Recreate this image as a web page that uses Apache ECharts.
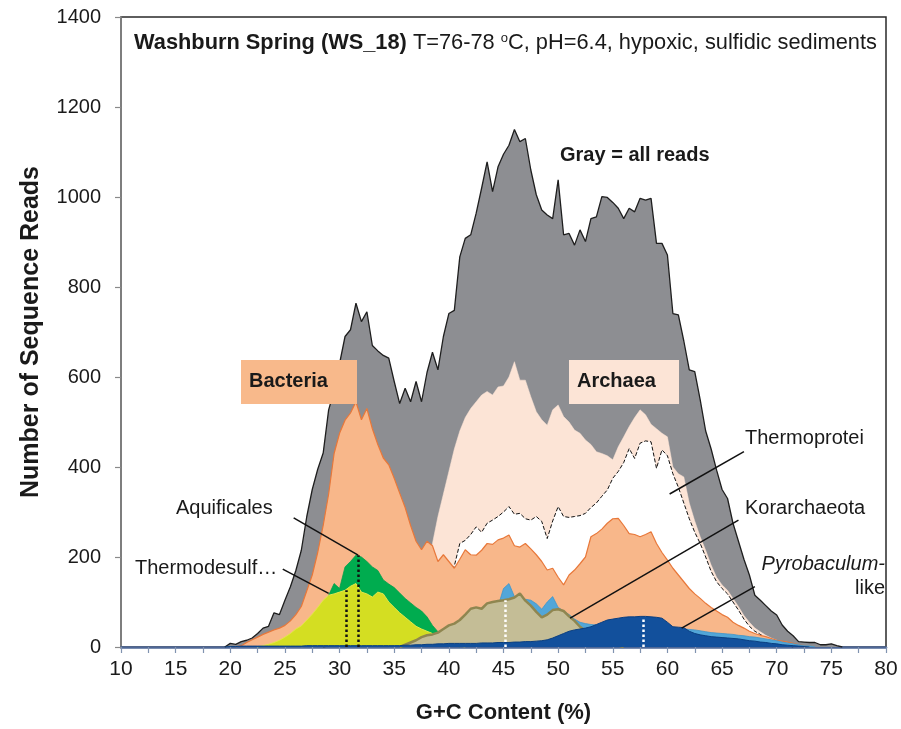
<!DOCTYPE html>
<html>
<head>
<meta charset="utf-8">
<script src="https://cdn.jsdelivr.net/npm/echarts@6/dist/echarts.min.js"></script>
<style>
  html, body { margin: 0; padding: 0; background: #fff; }
  #main { width: 901px; height: 729px; }
</style>
</head>
<body>
<div id="main"></div>
<script>
// G+C content (%), 0.5 steps from 19 to 77
var gc = [
    19, 19.5, 20, 20.5, 21, 21.5, 22, 22.5, 23, 23.5,
    24, 24.5, 25, 25.5, 26, 26.5, 27, 27.5, 28, 28.5,
    29, 29.5, 30, 30.5, 31, 31.5, 32, 32.5, 33, 33.5,
    34, 34.5, 35, 35.5, 36, 36.5, 37, 37.5, 38, 38.5,
    39, 39.5, 40, 40.5, 41, 41.5, 42, 42.5, 43, 43.5,
    44, 44.5, 45, 45.5, 46, 46.5, 47, 47.5, 48, 48.5,
    49, 49.5, 50, 50.5, 51, 51.5, 52, 52.5, 53, 53.5,
    54, 54.5, 55, 55.5, 56, 56.5, 57, 57.5, 58, 58.5,
    59, 59.5, 60, 60.5, 61, 61.5, 62, 62.5, 63, 63.5,
    64, 64.5, 65, 65.5, 66, 66.5, 67, 67.5, 68, 68.5,
    69, 69.5, 70, 70.5, 71, 71.5, 72, 72.5, 73, 73.5,
    74, 74.5, 75, 75.5, 76, 76.5, 77
];

var allReads = [
    0, 0, 8, 6, 12, 15, 20, 30, 42, 46,
    76, 72, 104, 134, 170, 215, 290, 350, 395, 431,
    527, 570, 630, 690, 705, 764, 723, 745, 670, 658,
    648, 642, 590, 541, 575, 545, 590, 545, 610, 655,
    616, 690, 741, 748, 867, 908, 916, 964, 1020, 1078,
    1012, 1067, 1095, 1115, 1150, 1123, 1130, 1060, 1005, 971,
    960, 952, 1038, 916, 919, 893, 927, 901, 952, 956,
    1001, 999, 988, 975, 952, 975, 967, 997, 993, 997,
    897, 897, 871, 741, 738, 680, 616, 612, 549, 480,
    440, 393, 350, 330, 275, 235, 195, 160, 115, 104,
    92, 80, 71, 49, 35, 25, 12, 11, 10, 10,
    5, 5, 7, 3, 0, 0, 0
];

var archaea = [
    0, 0, 0, 0, 0, 0, 0, 0, 0, 0,
    0, 0, 0, 0, 0, 0, 2, 3, 4, 5,
    6, 8, 10, 12, 14, 16, 18, 20, 24, 28,
    32, 36, 40, 48, 56, 66, 80, 100, 140, 230,
    290, 340, 390, 440, 480, 510, 530, 545, 560, 568,
    560, 578, 580, 600, 634, 593, 593, 556, 523, 505,
    493, 527, 538, 512, 500, 482, 475, 460, 450, 434,
    430, 425, 416, 445, 467, 490, 510, 527, 516, 495,
    485, 475, 467, 400, 385, 378, 320, 280, 245, 215,
    182, 155, 138, 126, 108, 90, 70, 55, 42, 34,
    26, 20, 15, 10, 7, 4, 0, 0, 0, 0,
    0, 0, 0, 0, 0, 0, 0
];

var thermoprotei = [
    0, 0, 0, 0, 0, 0, 0, 0, 0, 0,
    0, 0, 0, 0, 0, 0, 0, 0, 0, 0,
    2, 3, 4, 5, 6, 7, 8, 9, 10, 12,
    14, 17, 20, 30, 40, 50, 60, 75, 90, 110,
    130, 150, 165, 180, 230, 237, 250, 267, 255, 275,
    282, 290, 300, 312, 295, 297, 285, 282, 290, 279,
    241, 280, 312, 290, 288, 290, 292, 297, 310, 320,
    335, 349, 375, 390, 410, 441, 419, 453, 458, 456,
    397, 438, 425, 385, 355, 320, 285, 255, 230, 200,
    168, 145, 130, 118, 100, 82, 62, 46, 35, 28,
    20, 14, 9, 5, 2, 0, 0, 0, 0, 0,
    0, 0, 0, 0, 0, 0, 0
];

var bacteria = [
    0, 0, 0, 0, 3, 10, 16, 22, 28, 33,
    38, 42, 48, 58, 72, 90, 125, 160, 210, 270,
    340, 430, 475, 504, 520, 545, 505, 530, 485, 450,
    420, 405, 375, 342, 310, 270, 235, 216, 235, 225,
    190, 205, 190, 175, 195, 216, 205, 204, 215, 230,
    228, 238, 242, 249, 225, 222, 230, 218, 205, 190,
    171, 175, 155, 138, 160, 171, 185, 200, 245, 252,
    262, 275, 285, 286, 270, 252, 250, 245, 250, 256,
    230, 210, 193, 175, 160, 145, 130, 118, 108, 97,
    88, 80, 72, 66, 55, 48, 42, 35, 30, 26,
    23, 19, 15, 13, 11, 8, 5, 3, 0, 0,
    0, 0, 0, 0, 0, 0, 0
];

var aquificales = [
    0, 0, 0, 0, 0, 0, 0, 0, 1, 2,
    3, 5, 8, 12, 20, 30, 45, 60, 75, 90,
    115, 141, 130, 178, 190, 204, 200, 190, 178, 170,
    149, 140, 132, 120, 108, 98, 88, 80, 67, 48,
    34, 20, 10, 4, 0, 0, 0, 0, 0, 0,
    0, 0, 0, 0, 0, 0, 0, 0, 0, 0,
    0, 0, 0, 0, 0, 0, 0, 0, 0, 0,
    0, 0, 0, 0, 0, 0, 0, 0, 0, 0,
    0, 0, 0, 0, 0, 0, 0, 0, 0, 0,
    0, 0, 0, 0, 0, 0, 0, 0, 0, 0,
    0, 0, 0, 0, 0, 0, 0, 0, 0, 0,
    0, 0, 0, 0, 0, 0, 0
];

var thermodesulf = [
    0, 0, 0, 0, 0, 0, 0, 0, 3, 6,
    10, 15, 22, 30, 40, 47, 60, 73, 88, 104,
    115, 118, 122, 126, 135, 141, 122, 118, 111, 122,
    118, 100, 88, 76, 66, 56, 46, 40, 35, 30,
    22, 16, 10, 5, 2, 0, 0, 0, 0, 0,
    0, 0, 0, 0, 0, 0, 0, 0, 0, 0,
    0, 0, 0, 0, 0, 0, 0, 0, 0, 0,
    0, 0, 0, 0, 0, 0, 0, 0, 0, 0,
    0, 0, 0, 0, 0, 0, 0, 0, 0, 0,
    0, 0, 0, 0, 0, 0, 0, 0, 0, 0,
    0, 0, 0, 0, 0, 0, 0, 0, 0, 0,
    0, 0, 0, 0, 0, 0, 0
];

var lightBlue = [
    0, 0, 0, 0, 0, 0, 0, 0, 0, 0,
    0, 0, 0, 0, 0, 0, 0, 0, 0, 0,
    0, 0, 0, 0, 0, 0, 0, 0, 0, 0,
    0, 0, 2, 2, 3, 4, 5, 6, 8, 9,
    10, 12, 15, 18, 20, 25, 30, 40, 50, 60,
    70, 90, 130, 141, 112, 110, 106, 104, 96, 84,
    100, 112, 88, 80, 72, 62, 55, 52, 50, 49,
    48, 47, 46, 45, 44, 44, 43, 43, 42, 42,
    42, 41, 41, 41, 40, 40, 39, 38, 36, 34,
    32, 31, 30, 29, 28, 26, 25, 23, 22, 20,
    18, 16, 14, 11, 9, 7, 5, 3, 2, 0,
    0, 0, 0, 0, 0, 0, 0
];

var korarchaeota = [
    0, 0, 0, 0, 0, 0, 0, 0, 0, 0,
    0, 0, 0, 0, 0, 0, 0, 0, 0, 0,
    0, 0, 0, 0, 0, 0, 0, 0, 0, 0,
    0, 0, 0, 0, 5, 10, 15, 22, 26, 28,
    32, 40, 48, 52, 60, 72, 85, 88, 85, 97,
    100, 102, 104, 106, 110, 119, 103, 92, 78, 66,
    72, 82, 84, 80, 68, 58, 45, 36, 28, 20,
    14, 9, 5, 3, 0, 0, 0, 0, 0, 0,
    0, 0, 0, 0, 0, 0, 0, 0, 0, 0,
    0, 0, 0, 0, 0, 0, 0, 0, 0, 0,
    0, 0, 0, 0, 0, 0, 0, 0, 0, 0,
    0, 0, 0, 0, 0, 0, 0
];

var pyrobaculum = [
    0, 0, 1, 1, 2, 2, 2, 2, 2, 2,
    2, 2, 2, 2, 2, 2, 3, 3, 3, 3,
    3, 3, 3, 3, 3, 3, 3, 3, 3, 3,
    3, 3, 3, 3, 4, 4, 5, 5, 6, 6,
    7, 7, 8, 8, 8, 8, 8, 8, 9, 9,
    9, 10, 10, 10, 11, 11, 12, 12, 13, 14,
    16, 20, 25, 30, 35, 38, 40, 42, 45, 50,
    55, 60, 62, 64, 66, 67, 67, 68, 68, 67,
    66, 64, 55, 45, 44, 43, 35, 30, 27, 25,
    23, 22, 21, 20, 19, 18, 16, 14, 13, 11,
    10, 8, 7, 5, 4, 3, 2, 1, 0, 0,
    0, 0, 0, 0, 0, 0, 0
];

// median G+C marks (dotted verticals)
var medianGc = [30.6, 31.7, 45.2, 57.8];
var medianTop = [126, 204, 104, 62];
var medianColor = ['#111', '#111', '#fff', '#fff'];

// leader lines from labels to curves, in data units [gc, reads]
var leaderFrom = [[25.8, 287], [24.8, 173], [67.0, 434], [66.5, 282], [68.0, 134]];
var leaderTo = [[31.7, 204], [29.0, 119], [60.2, 340], [51.1, 64], [61.3, 42]];

var yTicks = { min: 0, max: 1400, step: 200 };
var xTicks = { min: 10, max: 80, step: 2.5, labelEvery: 5 };

var FONT = '"Liberation Sans", Arial, sans-serif';

// keep only the stretch where a series is above zero (plus one zero on each side)
function pairs(vals) {
    var out = [];
    gc.forEach(function (x, i) {
        var prev = i > 0 ? vals[i - 1] : 0;
        var next = i < vals.length - 1 ? vals[i + 1] : 0;
        if (vals[i] > 0 || prev > 0 || next > 0)
            out.push([x, vals[i]]);
    });
    return out;
}

function areaSeries(name, vals, fill, line, width, type) {
    return {
        name: name,
        type: 'line',
        data: pairs(vals),
        symbol: 'none',
        silent: true,
        lineStyle: { color: line, width: width, type: type || 'solid' },
        areaStyle: { color: fill, opacity: 1 },
    };
}

var myChart = echarts.init(document.getElementById('main'));

var seriesList = [
    areaSeries('All reads', allReads, '#8d8e92', '#1e1e1e', 1.3),
    areaSeries('Archaea', archaea, '#fce4d6', '#fce4d6', 0.5),
    areaSeries('Thermoprotei', thermoprotei, '#ffffff', '#111', 1, [4, 2]),
    areaSeries('Bacteria', bacteria, '#f8b78a', '#e8783a', 1.2),
    areaSeries('Aquificales', aquificales, '#00ac4f', '#00a04a', 0.8),
    areaSeries('Thermodesulf', thermodesulf, '#d4de22', '#e4e64a', 1),
    areaSeries('Other archaea', lightBlue, '#52a6d8', '#3d95cc', 0.8),
    areaSeries('Korarchaeota', korarchaeota, '#c4bd96', '#8f8650', 2.5),
    areaSeries('Pyrobaculum-like', pyrobaculum, '#12509c', '#0b3f80', 1),
];

// each series on its own layer so a later area covers earlier outlines
seriesList.forEach(function (s, i) {
    s.z = 2 + i;
});

// dotted median lines and leader lines ride on the top series
var marks = [];
medianGc.forEach(function (x, i) {
    marks.push([
        { coord: [x, 0], lineStyle: { color: medianColor[i], width: 2.5, type: [2.5, 2.5] } },
        { coord: [x, medianTop[i]] },
    ]);
});
leaderFrom.forEach(function (p, i) {
    marks.push([
        { coord: p, lineStyle: { color: '#111', width: 1.5, type: 'solid' } },
        { coord: leaderTo[i] },
    ]);
});
seriesList[seriesList.length - 1].markLine = {
    silent: true,
    z: 30,
    symbol: ['none', 'none'],
    label: { show: false },
    animation: false,
    data: marks,
};

var labelStyle = { fontFamily: FONT, fontSize: 20, fill: '#1a1a1a' };
var boxLabelStyle = { fontFamily: FONT, fontSize: 20, fontWeight: 'bold', fill: '#1a1a1a' };

var option = {
    animation: false,
    backgroundColor: '#fff',
    grid: {
        left: 121, right: 15, top: 17, bottom: 82,
        show: true, borderColor: '#2a2a2a', borderWidth: 1.5, backgroundColor: 'transparent',
    },
    xAxis: {
        type: 'value',
        min: xTicks.min, max: xTicks.max, interval: xTicks.step,
        name: 'G+C Content (%)',
        nameLocation: 'middle',
        nameGap: 55,
        nameTextStyle: { fontFamily: FONT, fontSize: 22, fontWeight: 'bold', color: '#1a1a1a' },
        axisLine: { lineStyle: { color: '#4f6897', width: 2.5 } },
        axisTick: { length: 6, lineStyle: { color: '#8093b0', width: 1.2 } },
        axisLabel: {
            margin: 12, fontSize: 21, color: '#1a1a1a', fontFamily: FONT,
            formatter: function (v) { return v % xTicks.labelEvery === 0 ? String(v) : ''; },
        },
        splitLine: { show: false },
    },
    yAxis: {
        type: 'value',
        min: yTicks.min, max: yTicks.max, interval: yTicks.step,
        name: 'Number of Sequence Reads',
        nameLocation: 'middle',
        nameGap: 77,
        nameTextStyle: { fontFamily: FONT, fontSize: 25, fontWeight: 'bold', color: '#1a1a1a' },
        axisLine: { show: true, lineStyle: { color: '#8a8a8a', width: 1.5 } },
        axisTick: { show: true, length: 6, lineStyle: { color: '#8a8a8a', width: 1.2 } },
        axisLabel: {
            margin: 20, fontSize: 20, color: '#1a1a1a', fontFamily: FONT,
            formatter: function (v) { return String(v); },
        },
        splitLine: { show: false },
    },
    series: seriesList,
    graphic: [
        {
            type: 'text', z: 100, left: 134, top: 32,
            style: {
                text: '{b|Washburn Spring (WS_18)} T=76-78 {s|o}C, pH=6.4, hypoxic, sulfidic sediments',
                fontFamily: FONT, fontSize: 21.8, fill: '#1a1a1a',
                rich: {
                    b: { fontFamily: FONT, fontSize: 21.8, fontWeight: 'bold', fill: '#1a1a1a' },
                    s: { fontFamily: FONT, fontSize: 13, fill: '#1a1a1a', verticalAlign: 'top', padding: [0, 0, 9, 0] },
                },
            },
        },
        {
            type: 'text', z: 100, left: 560, top: 145,
            style: Object.assign({ text: 'Gray = all reads' }, boxLabelStyle),
        },
        {
            type: 'rect', z: 100, shape: { x: 241, y: 360, width: 116, height: 44 },
            style: { fill: '#f8b98b' },
        },
        {
            type: 'text', z: 101, left: 249, top: 371,
            style: Object.assign({ text: 'Bacteria' }, boxLabelStyle),
        },
        {
            type: 'rect', z: 100, shape: { x: 569, y: 360, width: 110, height: 44 },
            style: { fill: '#fce4d6' },
        },
        {
            type: 'text', z: 101, left: 577, top: 371,
            style: Object.assign({ text: 'Archaea' }, boxLabelStyle),
        },
        {
            type: 'text', z: 100, left: 176, top: 498,
            style: Object.assign({ text: 'Aquificales' }, labelStyle),
        },
        {
            type: 'text', z: 100, left: 135, top: 558,
            style: Object.assign({ text: 'Thermodesulf\u2026' }, labelStyle),
        },
        {
            type: 'text', z: 100, left: 745, top: 428,
            style: Object.assign({ text: 'Thermoprotei' }, labelStyle),
        },
        {
            type: 'text', z: 100, left: 745, top: 498,
            style: Object.assign({ text: 'Korarchaeota' }, labelStyle),
        },
        {
            type: 'text', z: 100, right: 16, top: 554,
            style: Object.assign({ text: 'Pyrobaculum-', fontStyle: 'italic', textAlign: 'right' }, labelStyle),
        },
        {
            type: 'text', z: 100, right: 16, top: 578,
            style: Object.assign({ text: 'like', textAlign: 'right' }, labelStyle),
        },
    ],
};

myChart.setOption(option);
</script>
</body>
</html>
